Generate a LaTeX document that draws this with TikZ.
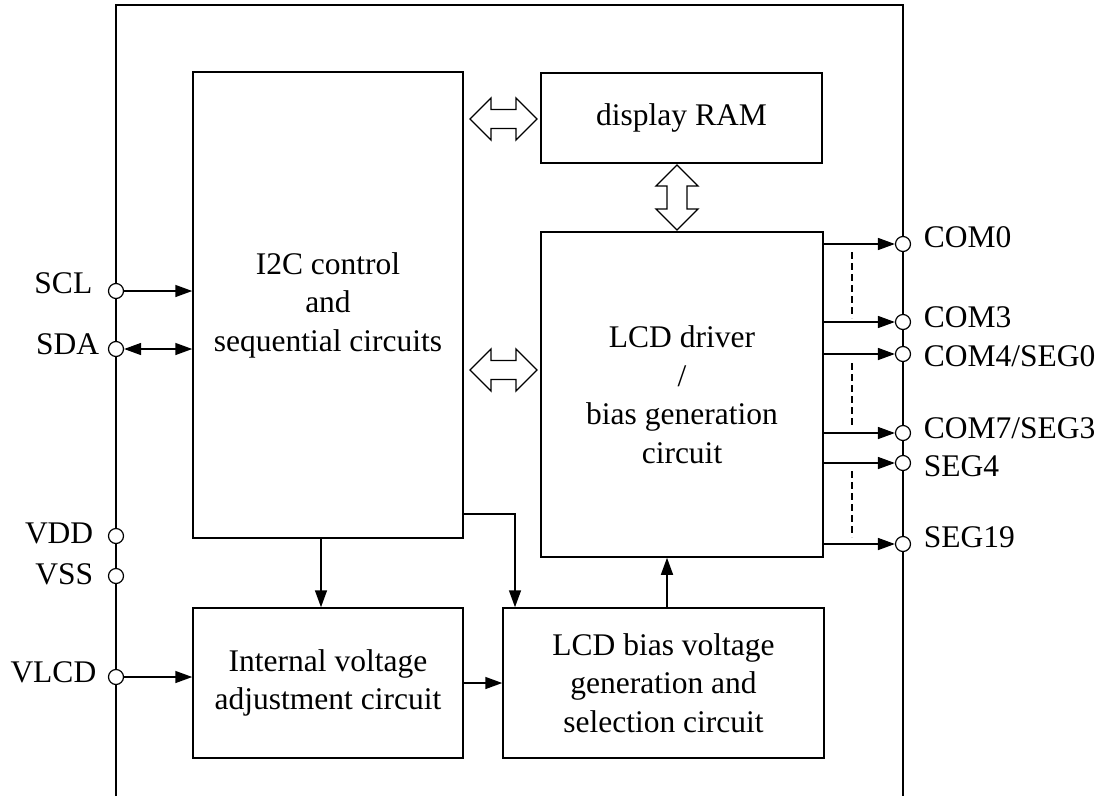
\documentclass[tikz,border=0pt]{standalone}
\usepackage{fontspec}
\setmainfont{Liberation Serif}
\usetikzlibrary{arrows.meta}
\begin{document}
\begin{tikzpicture}[x=1pt,y=-1pt,line width=1.5pt,
  txt/.style={font=\fontsize{31.5}{38.5}\selectfont},
  blk/.style={draw,txt,align=center,inner sep=0pt,anchor=center},
  pin/.style={draw,circle,fill=white,minimum size=15pt,inner sep=0pt,line width=1.2pt},
  lbl/.style={txt,inner sep=0pt},
  arr/.style={-{Triangle[length=17pt,width=12pt]}},
  arrb/.style={{Triangle[length=17pt,width=12pt]}-{Triangle[length=17pt,width=12pt]}},
  dsh/.style={line width=1.2pt,dash pattern=on 7pt off 4pt},
  hol/.style={draw,fill=white,line width=1.3pt,line join=miter}]
\useasboundingbox (0,0) rectangle (1106,796);
% frame
\draw (116,796) -- (116,5) -- (903,5) -- (903,796);
% blocks
\node[blk,minimum width=270pt,minimum height=466pt] (i2c) at (328,305) {I2C control\\and\\sequential circuits};
\node[blk,minimum width=281pt,minimum height=90pt] (ram) at (681.5,118) {display RAM};
\node[blk,minimum width=282pt,minimum height=325pt] (lcd) at (682,394.5) {LCD driver\\/\\bias generation\\circuit};
\node[blk,minimum width=270pt,minimum height=150pt] (ivc) at (328,683) {Internal voltage\\adjustment circuit};
\node[blk,minimum width=321pt,minimum height=150pt] (bias) at (663.5,683) {LCD bias voltage\\generation and\\selection circuit};
% pins left
\node[pin] (scl) at (116,291) {};
\node[pin] (sda) at (116,349) {};
\node[pin] (vdd) at (116,536) {};
\node[pin] (vss) at (116,576) {};
\node[pin] (vlcd) at (116,677) {};
\node[lbl,anchor=base east] (lscl) at (93,293) {SCL};
\node[lbl,anchor=base east] (lsda) at (100,354) {SDA};
\node[lbl,anchor=base east] (lvdd) at (94,543) {VDD};
\node[lbl,anchor=base east] (lvss) at (94,584) {VSS};
\node[lbl,anchor=base east] (lvlcd) at (97,682) {VLCD};
% pins right
\node[pin] (com0) at (903,244) {};
\node[pin] (com3) at (903,322) {};
\node[pin] (com4) at (903,354) {};
\node[pin] (com7) at (903,433) {};
\node[pin] (seg4) at (903,463) {};
\node[pin] (seg19) at (903,544) {};
\node[lbl,anchor=base west] (lcom0) at (923,247) {COM0};
\node[lbl,anchor=base west] (lcom3) at (923,327) {COM3};
\node[lbl,anchor=base west] (lcom4) at (923,366) {COM4/SEG0};
\node[lbl,anchor=base west] (lcom7) at (923,438) {COM7/SEG3};
\node[lbl,anchor=base west] (lseg4) at (923,476) {SEG4};
\node[lbl,anchor=base west] (lseg19) at (923,547) {SEG19};
% connectors left
\draw[arr] (scl) -- (i2c.west |- scl);
\draw[arrb] (sda) -- (i2c.west |- sda);
\draw[arr] (vlcd) -- (ivc.west |- vlcd);
\draw[arr] (ivc.east) -- (bias.west);
\draw[arr] ([xshift=-7pt]i2c.south) -- ([xshift=-7pt]ivc.north);
\coordinate (k) at (515,514);
\draw[arr] (i2c.east |- k) -| (bias.north -| k);
\coordinate (u) at (667,600);
\draw[arr] (bias.north -| u) -- (lcd.south -| u);
% outputs
\foreach \p in {com0,com3,com4,com7,seg4,seg19}
  \draw[arr] (lcd.east |- \p) -- (\p);
\draw[dsh] (852,252) -- (852,318);
\draw[dsh] (852,363) -- (852,428);
\draw[dsh] (852,471) -- (852,537);
% hollow double arrows
\path[hol] (470,119) -- (491,98) -- (491,109.5) -- (516,109.5) -- (516,98) -- (537,119)
  -- (516,140) -- (516,128.5) -- (491,128.5) -- (491,140) -- cycle;
\path[hol] (470,370) -- (491,349) -- (491,360.5) -- (516,360.5) -- (516,349) -- (537,370)
  -- (516,391) -- (516,379.5) -- (491,379.5) -- (491,391) -- cycle;
\path[hol] (677,165) -- (698,186) -- (687,186) -- (687,209) -- (698,209) -- (677,230)
  -- (656,209) -- (667,209) -- (667,186) -- (656,186) -- cycle;
\end{tikzpicture}
\end{document}
